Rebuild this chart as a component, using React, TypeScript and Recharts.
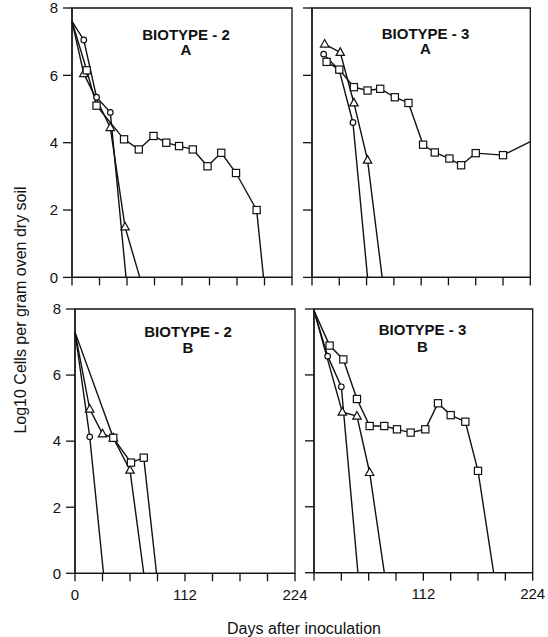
import { LineChart, Line, XAxis, YAxis, ReferenceArea } from "recharts";

const dayTicks = [0, 28, 56, 84, 112, 140, 168, 196, 224];
const logTicks = [0, 2, 4, 6, 8];

// Biotype 2, A
const circle2A = [
  { day: 0, log: 7.6 }, { day: 12, log: 7.05 }, { day: 25, log: 5.35 },
  { day: 39, log: 4.9 }, { day: 55, log: 0 },
];
const triangle2A = [
  { day: 0, log: 7.6 }, { day: 12, log: 6.05 }, { day: 39, log: 4.45 },
  { day: 54, log: 1.5 }, { day: 69, log: 0 },
];
const square2A = [
  { day: 0, log: 7.6 }, { day: 15, log: 6.15 }, { day: 25, log: 5.1 },
  { day: 53, log: 4.1 }, { day: 68, log: 3.8 }, { day: 83, log: 4.2 },
  { day: 96, log: 4.0 }, { day: 109, log: 3.9 }, { day: 123, log: 3.8 },
  { day: 138, log: 3.3 }, { day: 152, log: 3.7 }, { day: 167, log: 3.1 },
  { day: 188, log: 2.0 }, { day: 195, log: 0 },
];

// Biotype 3, A
const circle3A = [
  { day: 12, log: 6.63 }, { day: 28, log: 6.15 }, { day: 42, log: 4.6 },
  { day: 57, log: 0 },
];
const triangle3A = [
  { day: 13, log: 6.93 }, { day: 29, log: 6.68 }, { day: 43, log: 5.18 },
  { day: 57, log: 3.48 }, { day: 72, log: 0 },
];
const square3A = [
  { day: 15, log: 6.4 }, { day: 28, log: 6.17 }, { day: 43, log: 5.65 },
  { day: 57, log: 5.55 }, { day: 70, log: 5.6 }, { day: 85, log: 5.35 },
  { day: 99, log: 5.18 }, { day: 114, log: 3.94 }, { day: 126, log: 3.71 },
  { day: 141, log: 3.53 }, { day: 153, log: 3.33 }, { day: 168, log: 3.69 },
  { day: 196, log: 3.63 }, { day: 224, log: 4.03 },
];

// Biotype 2, B
const circle2B = [
  { day: 0, log: 7.3 }, { day: 15, log: 4.13 }, { day: 29, log: 0 },
];
const triangle2B = [
  { day: 0, log: 7.3 }, { day: 15, log: 4.97 }, { day: 28, log: 4.22 },
  { day: 39, log: 4.1 }, { day: 56, log: 3.12 }, { day: 70, log: 0 },
];
const square2B = [
  { day: 0, log: 7.3 }, { day: 39, log: 4.1 }, { day: 57, log: 3.35 },
  { day: 70, log: 3.5 }, { day: 83, log: 0 },
];

// Biotype 3, B
const circle3B = [
  { day: 0, log: 7.95 }, { day: 14, log: 6.57 }, { day: 28, log: 5.64 },
  { day: 45, log: 0 },
];
const triangle3B = [
  { day: 0, log: 7.95 }, { day: 29, log: 4.87 }, { day: 44, log: 4.75 },
  { day: 57, log: 3.04 }, { day: 72, log: 0 },
];
const square3B = [
  { day: 0, log: 7.95 }, { day: 16, log: 6.89 }, { day: 30, log: 6.47 },
  { day: 44, log: 5.27 }, { day: 57, log: 4.45 }, { day: 72, log: 4.45 },
  { day: 85, log: 4.35 }, { day: 99, log: 4.25 }, { day: 114, log: 4.35 },
  { day: 127, log: 5.14 }, { day: 140, log: 4.78 }, { day: 155, log: 4.58 },
  { day: 168, log: 3.09 }, { day: 184, log: 0 },
];

const FONT = "'Liberation Sans', Arial, Helvetica, sans-serif";

type Pt = { day: number; log: number };
type Shape = "circle" | "triangle" | "square";

function makeDot(shape: Shape) {
  return (props: any) => {
    const { cx, cy, payload, index } = props;
    const key = `${shape}-${index}`;
    if (cx == null || cy == null || payload.log === 0 || payload.day === 0 || payload.day >= 224) {
      return <g key={key} />;
    }
    const st = { fill: "#fff", stroke: "#111", strokeWidth: 1.2 };
    if (shape === "circle") return <circle key={key} cx={cx} cy={cy} r={2.8} {...st} />;
    if (shape === "square")
      return <rect key={key} x={cx - 3.6} y={cy - 3.6} width={7.2} height={7.2} {...st} />;
    return (
      <polygon
        key={key}
        points={`${cx},${cy - 4.6} ${cx - 4.2},${cy + 3} ${cx + 4.2},${cy + 3}`}
        {...st}
      />
    );
  };
}

function Panel({
  left, top, w, h, series, yLabels, xLabels,
}: {
  left: number; top: number; w: number; h: number;
  series: [Shape, Pt[]][]; yLabels: boolean; xLabels: number[];
}) {
  const tickStyle = { fontSize: 15, fill: "#111", fontFamily: FONT };
  return (
    <div style={{ position: "absolute", left: left - 60, top: top - 10 }}>
      <LineChart width={w + 80} height={h + 50} margin={{ top: 10, right: 20, bottom: 0, left: 0 }}>
        <XAxis
          type="number"
          dataKey="day"
          domain={[0, 224]}
          ticks={dayTicks}
          interval={0}
          height={40}
          tickSize={8}
          tickMargin={8}
          tick={tickStyle}
          tickFormatter={(v: number) => (xLabels.includes(v) ? String(v) : "")}
          stroke="#111"
          strokeWidth={1.3}
        />
        <YAxis
          type="number"
          domain={[0, 8]}
          ticks={logTicks}
          interval={0}
          width={60}
          tickSize={9}
          tickMargin={5}
          tick={tickStyle}
          tickFormatter={(v: number) => (yLabels ? String(v) : "")}
          stroke="#111"
          strokeWidth={1.3}
        />
        <ReferenceArea x1={0} x2={224} y1={0} y2={8} fill="none" fillOpacity={0} stroke="#111" strokeWidth={1.3} />
        {series.map(([shape, data], i) => (
          <Line
            key={i}
            data={data}
            dataKey="log"
            type="linear"
            stroke="#111"
            strokeWidth={1.4}
            dot={makeDot(shape)}
            activeDot={false}
            isAnimationActive={false}
          />
        ))}
      </LineChart>
    </div>
  );
}

export default function App() {
  const title = { fontSize: 15, fontWeight: 700, fontFamily: FONT, fill: "#111" };
  return (
    <div style={{ position: "absolute", left: 0, top: 0, width: 548, height: 637, background: "#fff" }}>
      <Panel left={72.3} top={8.3} w={220} h={269.4} yLabels xLabels={[]}
        series={[["circle", circle2A], ["triangle", triangle2A], ["square", square2A]]} />
      <Panel left={311.7} top={8.3} w={218.3} h={269.4} yLabels={false} xLabels={[]}
        series={[["circle", circle3A], ["triangle", triangle3A], ["square", square3A]]} />
      <Panel left={75} top={309} w={220} h={264.3} yLabels xLabels={[0, 112, 224]}
        series={[["circle", circle2B], ["triangle", triangle2B], ["square", square2B]]} />
      <Panel left={314} top={309} w={218.7} h={263.7} yLabels={false} xLabels={[112, 224]}
        series={[["circle", circle3B], ["triangle", triangle3B], ["square", square3B]]} />
      <svg width={548} height={637} style={{ position: "absolute", left: 0, top: 0, pointerEvents: "none" }}>
        <text x={186} y={39.5} textAnchor="middle" {...title}>BIOTYPE - 2</text>
        <text x={186} y={55} textAnchor="middle" {...title}>A</text>
        <text x={425.5} y={38.5} textAnchor="middle" {...title}>BIOTYPE - 3</text>
        <text x={425.5} y={54} textAnchor="middle" {...title}>A</text>
        <text x={188} y={336.5} textAnchor="middle" {...title}>BIOTYPE - 2</text>
        <text x={188} y={352.5} textAnchor="middle" {...title}>B</text>
        <text x={422.5} y={335} textAnchor="middle" {...title}>BIOTYPE - 3</text>
        <text x={422.5} y={351.5} textAnchor="middle" {...title}>B</text>
        <text x={304} y={634} textAnchor="middle" fontSize={16} fontFamily={FONT} fill="#111">
          Days after inoculation
        </text>
        <text transform="translate(25.5,310) rotate(-90)" textAnchor="middle" fontSize={16} fontFamily={FONT} fill="#111">
          Log10 Cells per gram oven dry soil
        </text>
      </svg>
    </div>
  );
}
